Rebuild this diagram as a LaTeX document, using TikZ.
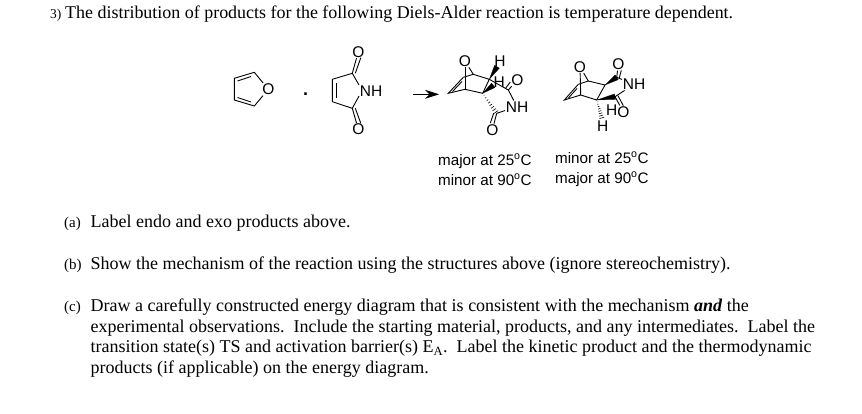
\documentclass[tikz,border=0pt]{standalone}
\usepackage{fontspec}
\setmainfont{Liberation Serif}
\setsansfont{Liberation Sans}
\usetikzlibrary{calc,arrows.meta}
\tikzset{
  line/.style={anchor=base west,inner sep=0pt,font=\fontsize{18}{20}\selectfont},
  tag/.style={anchor=base west,inner sep=0pt,font=\fontsize{15}{17}\selectfont},
  atom/.style={inner sep=0.6pt,font=\sffamily\fontsize{15.5}{15.5}\selectfont},
  cond/.style={anchor=base west,inner sep=0pt,font=\sffamily\fontsize{15.2}{17}\selectfont},
  bond/.style={line width=0.9pt},
  wedge/.style={fill=black,draw=black,line width=0.2pt},
}
\newcommand{\dgr}{\textsuperscript{o}}
% wedge bond from narrow end to wide end
\newcommand{\wdg}[2]{\fill[wedge] (#1) -- ($(#2)!2.8pt!90:(#1)$) -- ($(#2)!2.8pt!-90:(#1)$) -- cycle;}
\newcommand{\hsh}[2]{\foreach \pos/\wid in {0.1/0.3,0.22/0.6,0.34/0.9,0.46/1.2,0.58/1.5,0.7/1.8,0.82/2.1,0.94/2.4}
  \draw[line width=0.6pt] ($(#1)!\pos!(#2)!\wid pt!90:(#2)$) -- ($(#1)!\pos!(#2)!\wid pt!-90:(#2)$);}
\begin{document}
\begin{tikzpicture}[x=1pt,y=-1pt]
  \useasboundingbox (0,0) rectangle (862,413);

  % question
  \node[tag,font=\fontsize{13.5}{16}\selectfont] (tq) at (50,18.7) {3)};
  \node[line,font=\fontsize{17.95}{20}\selectfont] (q) at (65,18.7) {The distribution of products for the following Diels-Alder reaction is temperature dependent.};
  \node[tag] (ta) at (64,227) {(a)};
  \node[line] (qa) at (90.5,227) {Label endo and exo products above.};
  \node[tag] (tb) at (64,269) {(b)};
  \node[line] (qb) at (90.5,269) {Show the mechanism of the reaction using the structures above (ignore stereochemistry).};
  \node[tag] (tc) at (64,311) {(c)};
  \node[line] (qc) at (90.5,311) {Draw a carefully constructed energy diagram that is consistent with the mechanism \textbf{\textit{and}} the};
  \node[line] (qd) at (90.5,332) {experimental observations.\ \ Include the starting material, products, and any intermediates.\ \ Label the};
  \node[line] (qe) at (90.5,352.5) {transition state(s) TS and activation barrier(s) E\textsubscript{A}.\ \ Label the kinetic product and the thermodynamic};
  \node[line] (qf) at (90.5,373) {products (if applicable) on the energy diagram.};

  % furan
  \node[atom] (fO) at (268.3,89.3) {O};
  \coordinate (f1) at (234.3,78.3);
  \coordinate (f2) at (254.3,72.3);
  \coordinate (f3) at (254.3,106);
  \coordinate (f4) at (234.3,100);
  \draw[bond] (fO) -- (f2) -- (f1) -- (f4) -- (f3) -- (fO);
  \draw[bond] (237.5,81) -- (251,76.5);
  \draw[bond] (237.5,97.5) -- (251,102);

  \node[font=\sffamily\fontsize{18}{18}\selectfont,inner sep=0pt,anchor=base] (plus) at (305.7,95) {\textbf{.}};

  % maleimide
  \node[atom] (mN) at (371,90.7) {NH};
  \node[atom] (mO1) at (358.3,51.7) {O};
  \node[atom] (mO2) at (358.3,129.3) {O};
  \coordinate (m1) at (332.3,79.3);
  \coordinate (m2) at (332.3,101.7);
  \coordinate (m3) at (352.3,73.3);
  \coordinate (m4) at (352.3,108.3);
  \draw[bond] (mN.west |- 0,85) -- (m3) -- (m1) -- (m2) -- (m4) -- (mN.west |- 0,96);
  \draw[bond] (336,83) -- (336,98);
  \draw[bond] (m3) -- (mO1);
  \draw[bond] ($(m3)+(3,0)$) -- ($(mO1)+(2.5,6)$);
  \draw[bond] (m4) -- (mO2);
  \draw[bond] ($(m4)+(3,0)$) -- ($(mO2)+(2.5,-6)$);

  % reaction arrow
  \coordinate (a1) at (412.7,94.3);
  \coordinate (a2) at (439,94.3);
  \draw[line width=0.9pt,-{Stealth[length=14pt,width=9pt]}] (a1) -- (a2);

  % first product
  \node[atom] (pO) at (465,61) {O};
  \node[atom] (pH1) at (500,60.7) {H};
  \node[atom] (pH2) at (499.3,82.3) {H};
  \node[atom] (pO1) at (517.3,80) {O};
  \node[atom] (pN) at (517,106.7) {NH};
  \node[atom] (pO2) at (492.3,130) {O};
  \coordinate (p1) at (463.3,77.3);
  \coordinate (p2) at (448.3,93.3);
  \coordinate (p3) at (465,89.3);
  \coordinate (p4) at (482.7,93.3);
  \coordinate (p5) at (489.3,79.3);
  \coordinate (p6) at (473.3,74.3);
  \coordinate (p7) at (508.3,90);
  \coordinate (p8) at (496.7,113.3);
  \draw[bond] (p1) -- (p2) -- (p3) -- (p4) -- (p5) -- (p6) -- (pO);
  \draw[bond] (pO) -- (p3);
  \draw[bond] (p1) -- (p6);
  \draw[bond] (462,81.5) -- (452.5,91.5);
  \draw[bond] (p5) -- (p7) -- (pN);
  \draw[bond] (p8) -- (pN);
  \draw[bond] (p7) -- (pO1);
  \draw[bond] ($(p7)+(-2.5,-2)$) -- ($(pO1)+(-7,2)$);
  \draw[bond] (p8) -- (pO2);
  \draw[bond] ($(p8)+(-3,0)$) -- ($(pO2)+(-2,-7)$);
  \wdg{p5}{$(pH1)+(-3,6)$}
  \wdg{p4}{$(pH2)+(-6,3)$}
  \hsh{p4}{p8}

  % second product
  \node[atom] (rO) at (580,66.7) {O};
  \node[atom] (rO1) at (618.3,64.3) {O};
  \node[atom] (rN) at (634,84.3) {NH};
  \node[atom] (rH1) at (611.7,110) {H};
  \node[atom] (rO2) at (623.3,111.7) {O};
  \node[atom] (rH2) at (602.7,126) {H};
  \coordinate (r1) at (578.3,84.3);
  \coordinate (r2) at (564.3,100);
  \coordinate (r3) at (580.7,95);
  \coordinate (r4) at (596.7,100);
  \coordinate (r5) at (605,85);
  \coordinate (r6) at (588.3,81);
  \coordinate (r7) at (616.7,77.3);
  \coordinate (r8) at (615,96.7);
  \draw[bond] (r1) -- (r2) -- (r3) -- (r4) -- (r5) -- (r6) -- (rO);
  \draw[bond] (rO) -- (r3);
  \draw[bond] (r1) -- (r6);
  \draw[bond] (577,88.5) -- (568.5,98);
  \draw[bond] (r7) -- (rN);
  \draw[bond] (r8) -- (rN);
  \draw[bond] (r7) -- (rO1);
  \draw[bond] ($(r7)+(2.5,1)$) -- ($(rO1)+(3,6)$);
  \draw[bond] (r8) -- (rO2);
  \draw[bond] ($(r8)+(3,-1)$) -- ($(rO2)+(0,-6)$);
  \wdg{r5}{r7}
  \wdg{r4}{r8}
  \hsh{r4}{$(rH2)+(-0.5,-7)$}

  % conditions
  \node[cond] (c1) at (438,165) {major at 25\dgr C};
  \node[cond] (c2) at (438,185) {minor at 90\dgr C};
  \node[cond] (c3) at (555,163) {minor at 25\dgr C};
  \node[cond] (c4) at (555,183) {major at 90\dgr C};
\end{tikzpicture}
\end{document}
